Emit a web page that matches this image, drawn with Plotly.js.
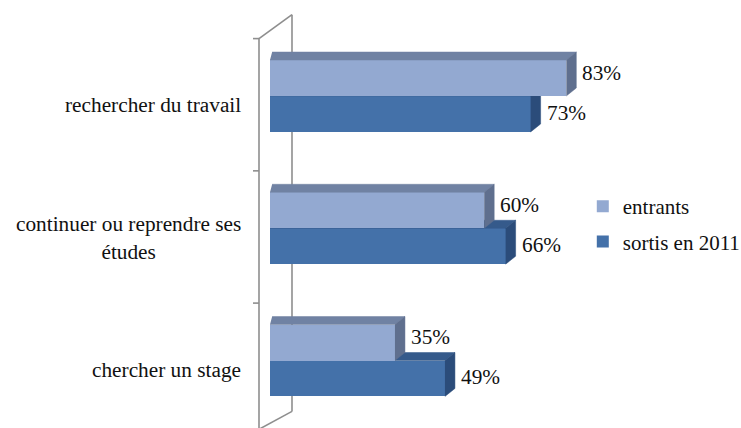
<!DOCTYPE html>
<html><head><meta charset="utf-8">
<script src="https://cdn.plot.ly/plotly-3.0.1.min.js"></script>
<style>html,body{margin:0;padding:0;background:#fff;} #chart{width:741px;height:428px;}</style>
</head><body><div id="chart"></div>
<script>
// ---- data ----
const categories = ["rechercher du travail", "continuer ou reprendre ses<br>études", "chercher un stage"];
const seriesNames = ["entrants", "sortis en 2011"];
const entrants = [83, 60, 35];
const sortis2011 = [73, 66, 49];

// ---- geometry / style ----
const PXX = 3.57;            // px per percent
const PXY = 132.25;          // px per category step
const W = 0.272;             // bar thickness (category units)
const DYU = 8 / PXY;         // 3D depth (up)
const DXR = 10 / PXX;        // 3D depth (right end)
const DXL = 0.6;             // 3D depth (left end)
const FRONT = -0.066;        // front plane shift
const BACK = 0.115;          // back plane shift
const n = categories.length;
const yPos = categories.map((c, i) => n - 1 - i);
const xRange = [-20 / PXX, -20 / PXX + 400 / PXX];
const yRange = [(360.5 - 428) / PXY, (360.5 - 10) / PXY];
const FONT = "Liberation Serif";
const FS = 21.3;
const TXT = "#111111";

const col = {
  light: {front: "#93a9d1", top: "#7082a3", side: "#5f6f8e"},
  dark:  {front: "#4471a9", top: "#355a8b", side: "#2b4c7a"}
};

function faces(vals, off) {
  const top = {x: [], y: []}, side = {x: [], y: []};
  vals.forEach((v, i) => {
    const b = yPos[i] + off, t = b + W;
    top.x.push(0, v, v + DXR, DXL, null);
    top.y.push(t, t, t + DYU, t + DYU, null);
    side.x.push(v, v + DXR, v + DXR, v, null);
    side.y.push(t, t + DYU, b + DYU, b, null);
  });
  return {top, side};
}

function seriesTraces(vals, name, off, c, xa, ya, rank) {
  const f = faces(vals, off);
  return [
    {type: "bar", orientation: "h", name: name, x: vals, y: yPos, width: W, offset: off,
     marker: {color: c.front, line: {width: 0}}, xaxis: xa, yaxis: ya, legendrank: rank,
     legendgroup: name, hoverinfo: "skip"},
    {type: "scatter", mode: "lines", x: f.top.x, y: f.top.y, fill: "toself", fillcolor: c.top,
     line: {color: c.top, width: 0.5}, showlegend: false, xaxis: xa, yaxis: ya, hoverinfo: "skip"},
    {type: "scatter", mode: "lines", x: f.side.x, y: f.side.y, fill: "toself", fillcolor: c.side,
     line: {color: c.side, width: 0.5}, showlegend: false, xaxis: xa, yaxis: ya, hoverinfo: "skip"}
  ];
}

const data = [
  ...seriesTraces(sortis2011, seriesNames[1], -W, col.dark, "x", "y", 2),
  ...seriesTraces(entrants, seriesNames[0], 0, col.light, "x2", "y2", 1)
];

// wall + ticks
const wallFrontX = -11 / PXX, wallBackX = 22 / PXX, tickX0 = -17 / PXX;
const topB = n - 0.5, botB = -0.5;
const lineStyle = {color: "#8e8e8e", width: 1.6};
const shapes = [
  {type: "line", xref: "x", yref: "y", x0: wallFrontX, x1: wallFrontX, y0: topB + FRONT, y1: botB - 0.02, line: lineStyle, layer: "below"},
  {type: "line", xref: "x", yref: "y", x0: wallBackX, x1: wallBackX, y0: topB + BACK, y1: botB + BACK, line: lineStyle, layer: "below"},
  {type: "line", xref: "x", yref: "y", x0: wallFrontX, x1: wallBackX, y0: topB + FRONT, y1: topB + BACK, line: lineStyle, layer: "below"},
  {type: "line", xref: "x", yref: "y", x0: wallFrontX, x1: wallBackX, y0: botB - 0.02, y1: botB + BACK, line: lineStyle, layer: "below"}
];
for (let k = 0; k < n; k++) {
  const yb = k + 0.5 + FRONT;
  shapes.push({type: "line", xref: "x", yref: "y", x0: tickX0, x1: wallFrontX, y0: yb, y1: yb, line: lineStyle, layer: "below"});
}

const annotations = [];
categories.forEach((c, i) => {
  annotations.push({xref: "paper", yref: "y", x: -7 / 400, y: yPos[i] - 0.07, text: c,
    xanchor: "right", yanchor: "middle", align: "center", showarrow: false,
    font: {family: FONT, size: FS, color: TXT}});
});
entrants.forEach((v, i) => {
  annotations.push({xref: "x", yref: "y", x: v, y: yPos[i] + W / 2 + 0.04, text: v + "%",
    xanchor: "left", yanchor: "middle", xshift: 14, showarrow: false,
    font: {family: FONT, size: FS, color: TXT}});
});
sortis2011.forEach((v, i) => {
  annotations.push({xref: "x", yref: "y", x: v, y: yPos[i] - W / 2 + 0.01, text: v + "%",
    xanchor: "left", yanchor: "middle", xshift: 14, showarrow: false,
    font: {family: FONT, size: FS, color: TXT}});
});

const axisHidden = {visible: false, showgrid: false, zeroline: false, fixedrange: true};
const layout = {
  width: 741, height: 428,
  font: {family: FONT, size: FS, color: TXT},
  margin: {l: 250, r: 91, t: 10, b: 0, pad: 0, autoexpand: false},
  paper_bgcolor: "#fff", plot_bgcolor: "rgba(0,0,0,0)",
  showlegend: true,
  legend: {x: 0.832, y: 0.579, xanchor: "left", yanchor: "top", bgcolor: "rgba(0,0,0,0)",
    font: {family: FONT, size: 21, color: TXT}, itemwidth: 30, traceorder: "grouped",
    tracegroupgap: 5},
  xaxis: Object.assign({range: xRange}, axisHidden),
  yaxis: Object.assign({range: yRange}, axisHidden),
  xaxis2: Object.assign({range: xRange, overlaying: "x"}, axisHidden),
  yaxis2: Object.assign({range: yRange, overlaying: "y"}, axisHidden),
  shapes: shapes,
  annotations: annotations,
  bargap: 0
};
Plotly.newPlot("chart", data, layout, {staticPlot: true, displayModeBar: false});
</script></body></html>
